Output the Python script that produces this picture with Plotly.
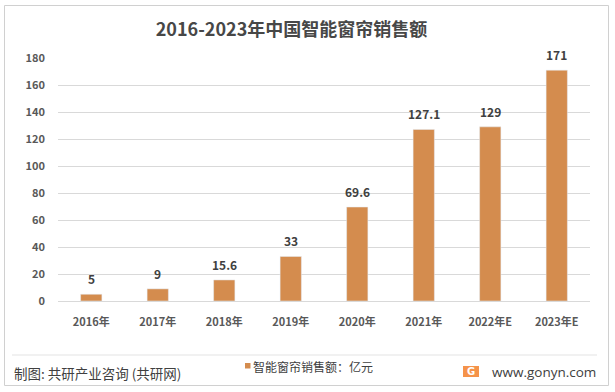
import plotly.graph_objects as go

categories = ["2016年", "2017年", "2018年", "2019年", "2020年", "2021年", "2022年E", "2023年E"]
values = [5, 9, 15.6, 33, 69.6, 127.1, 129, 171]
labels = ["5", "9", "15.6", "33", "69.6", "127.1", "129", "171"]
y_ticks = [0, 20, 40, 60, 80, 100, 120, 140, 160, 180]

bar_color = "#D48C4E"
font_fam = "Noto Sans CJK SC, Microsoft YaHei, sans-serif"

W, H = 615, 392
L, R, T, B = 58, 25, 58, 91
pw, ph = W - L - R, H - T - B

def px(x):
    return (x - L) / pw

def py(y):
    return (H - B - y) / ph

fig = go.Figure()
fig.add_trace(go.Bar(
    x=categories, y=values, marker_color=bar_color, width=0.32,
    name="智能窗帘销售额：亿元", showlegend=False,
))

for c, v, t in zip(categories, values, labels):
    fig.add_annotation(x=c, y=v, text=t, showarrow=False, yanchor="bottom", yshift=5,
                       font=dict(size=12, color="#404040", family=font_fam, weight="bold"))

fig.update_layout(
    width=W, height=H,
    margin=dict(l=L, r=R, t=T, b=B),
    paper_bgcolor="white", plot_bgcolor="white",
    font=dict(family=font_fam, color="#595959"),
    title=dict(text="<b>2016-2023年中国智能窗帘销售额</b>", x=px(291.5), xanchor="center",
               xref="paper", y=1 - 30 / H, yanchor="middle", font=dict(size=18, color="#474747")),
    xaxis=dict(showline=True, linecolor="#D9D9D9", linewidth=1, ticks="",
               ticklabelstandoff=11,
               tickfont=dict(size=11, color="#595959", weight="bold")),
    yaxis=dict(range=[0, 180], tickvals=y_ticks, showgrid=True, gridcolor="#D9D9D9",
               gridwidth=1, zeroline=False, ticks="", ticklabelstandoff=12,
               tickfont=dict(size=11, color="#595959", weight="bold")),
    bargap=0.5,
)

shapes = [
    dict(type="rect", xref="paper", yref="paper", x0=px(4.5), x1=px(608.5), y0=py(385.5), y1=py(5.5),
         line=dict(color="#D0D0D0", width=1), fillcolor="rgba(0,0,0,0)"),
    dict(type="line", xref="paper", yref="paper", x0=px(12), x1=px(597), y0=py(355), y1=py(355),
         line=dict(color="#E3E3E3", width=1)),
    dict(type="rect", xref="paper", yref="paper", x0=px(245), x1=px(250.5), y0=py(368.5), y1=py(363),
         line=dict(width=0), fillcolor=bar_color),
    dict(type="rect", xref="paper", yref="paper", x0=px(463), x1=px(479), y0=py(377), y1=py(366),
         line=dict(width=0), fillcolor="#F5934A"),
]
fig.update_layout(shapes=shapes)

fig.add_annotation(text="制图: 共研产业咨询 (共研网)", xref="paper", yref="paper",
                   x=px(12), y=py(373), xanchor="left", yanchor="middle", showarrow=False,
                   font=dict(size=13.5, color="#404040"))
fig.add_annotation(text="智能窗帘销售额：亿元", xref="paper", yref="paper",
                   x=px(251), y=py(366), xanchor="left", yanchor="middle", showarrow=False,
                   font=dict(size=12, color="#404040"))
fig.add_annotation(text="www.gonyn.com", xref="paper", yref="paper",
                   x=px(598), y=py(372), xanchor="right", yanchor="middle", showarrow=False,
                   font=dict(size=13.5, color="#404040", family="Open Sans, DejaVu Sans, sans-serif"))
fig.add_annotation(text="<b>G</b>", xref="paper", yref="paper",
                   x=px(471), y=py(371.5), xanchor="center", yanchor="middle", showarrow=False,
                   font=dict(size=10, color="white", family="DejaVu Sans, sans-serif"))

fig.write_html("out.html", config={"displayModeBar": False})
with open("out.html", encoding="utf-8") as f:
    html = f.read()
html = html.replace("<body>", '<body style="margin:0;padding:0;overflow:hidden">', 1)
with open("out.html", "w", encoding="utf-8") as f:
    f.write(html)
